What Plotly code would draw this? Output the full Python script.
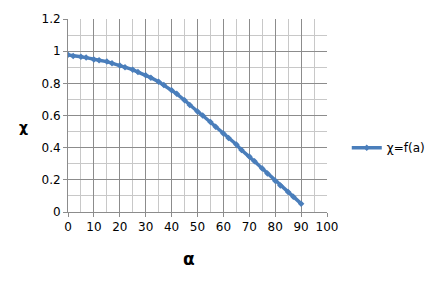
import plotly.graph_objects as go

alpha = [0, 2, 5, 7, 10, 12, 15, 17, 20, 22, 25, 27, 30, 32, 35, 37, 40, 42, 45, 47,
         50, 52, 55, 57, 60, 62, 65, 67, 70, 72, 75, 77, 80, 82, 85, 87, 90]
chi = [0.977, 0.970, 0.965, 0.960, 0.948, 0.944, 0.935, 0.925, 0.911, 0.900, 0.885, 0.870,
       0.850, 0.835, 0.810, 0.790, 0.757, 0.735, 0.695, 0.665, 0.625, 0.600, 0.560, 0.530,
       0.488, 0.460, 0.420, 0.385, 0.345, 0.315, 0.270, 0.240, 0.195, 0.165, 0.125, 0.095, 0.052]

x_ticks = [0, 10, 20, 30, 40, 50, 60, 70, 80, 90, 100]
y_ticks = [0, 0.2, 0.4, 0.6, 0.8, 1, 1.2]
y_labels = ["0", "0.2", "0.4", "0.6", "0.8", "1", "1.2"]

blue = "#4a7ebb"
font = dict(family="DejaVu Sans", size=12, color="#000")

L, R, T, B, W, H = 68, 112, 14, 79, 442, 291
pw, ph = W - L - R, H - T - B


def px_x(p):
    return (p - L) / pw


def px_y(p):
    return (H - B - p) / ph


fig = go.Figure()
fig.add_trace(go.Scatter(
    x=alpha, y=chi, mode="lines+markers", name="χ=f(a)",
    line=dict(color=blue, width=3.5),
    marker=dict(symbol="diamond", size=5, color=blue),
))

fig.update_layout(
    width=W, height=H,
    margin=dict(l=L, r=R, t=T, b=B),
    paper_bgcolor="white", plot_bgcolor="white",
    font=font,
    showlegend=True,
    legend=dict(x=px_x(350), y=px_y(146), xanchor="left", yanchor="middle",
                font=dict(family="DejaVu Sans", size=12, color="#000"),
                bgcolor="rgba(0,0,0,0)", itemwidth=30),
    xaxis=dict(range=[0, 100], tickvals=x_ticks, showgrid=True, gridcolor="#8c8c8c", gridwidth=1,
               minor=dict(dtick=5, showgrid=True, gridcolor="#c8c8c8", gridwidth=1),
               zeroline=False, showline=True, linecolor="#8c8c8c", linewidth=1,
               ticks="outside", ticklen=4, tickcolor="#8c8c8c", fixedrange=True,
               tickfont=font),
    yaxis=dict(range=[0, 1.2], tickvals=y_ticks, ticktext=y_labels, showgrid=True,
               gridcolor="#8c8c8c", gridwidth=1,
               minor=dict(dtick=0.1, showgrid=True, gridcolor="#c8c8c8", gridwidth=1),
               zeroline=False, showline=True, linecolor="#8c8c8c", linewidth=1,
               ticks="outside", ticklen=4, tickcolor="#8c8c8c", fixedrange=True,
               tickfont=font),
    annotations=[
        dict(text="<b>χ</b>", x=px_x(23), y=px_y(125), xref="paper", yref="paper",
             xanchor="center", yanchor="middle", showarrow=False,
             font=dict(family="DejaVu Sans", size=14, color="#000")),
        dict(text="<b>α</b>", x=px_x(190), y=px_y(260), xref="paper", yref="paper",
             xanchor="center", yanchor="middle", showarrow=False,
             font=dict(family="DejaVu Sans", size=17, color="#000")),
    ],
)

fig.write_html("out.html")
